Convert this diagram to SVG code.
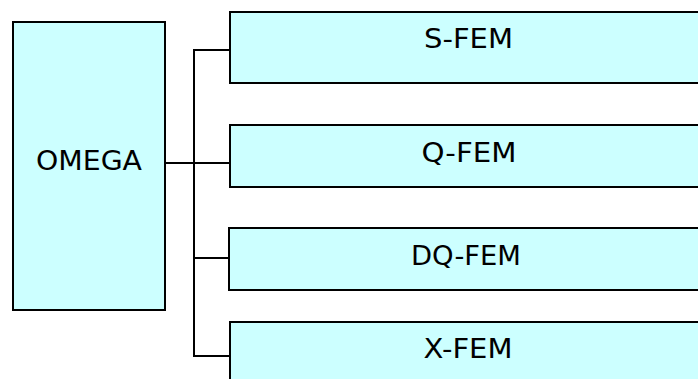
<svg xmlns="http://www.w3.org/2000/svg" width="698" height="379" viewBox="0 0 698 379">
  <style>
    .box { fill: #CCFFFF; stroke: #000; stroke-width: 2; }
    .lbl { font-family: "DejaVu Sans", "Liberation Sans", sans-serif; font-size: 26px; fill: #000; text-anchor: middle; }
    .wire { fill: none; stroke: #000; stroke-width: 2; }
  </style>
  <rect width="698" height="379" fill="#fff"/>

  <g id="omega">
    <rect class="box" x="13" y="22" width="152" height="288"/>
    <text class="lbl" x="89" y="170" textLength="106" lengthAdjust="spacingAndGlyphs">OMEGA</text>
  </g>

  <g id="s-fem">
    <rect class="box" x="230" y="12" width="480" height="71"/>
    <text class="lbl" x="468.5" y="48" textLength="89" lengthAdjust="spacingAndGlyphs">S-FEM</text>
  </g>

  <g id="q-fem">
    <rect class="box" x="230" y="125" width="480" height="62"/>
    <text class="lbl" x="469" y="161.5" textLength="95" lengthAdjust="spacingAndGlyphs">Q-FEM</text>
  </g>

  <g id="dq-fem">
    <rect class="box" x="229" y="228" width="480" height="62"/>
    <text class="lbl" x="466" y="265" textLength="110" lengthAdjust="spacingAndGlyphs">DQ-FEM</text>
  </g>

  <g id="x-fem">
    <rect class="box" x="230" y="322" width="480" height="80"/>
    <text class="lbl" x="468" y="358" textLength="89" lengthAdjust="spacingAndGlyphs">X-FEM</text>
  </g>

  <g id="connectors">
    <polyline class="wire" points="230,50 194,50 194,356 231,356"/>
    <line class="wire" x1="165" y1="163" x2="230" y2="163"/>
    <line class="wire" x1="194" y1="258" x2="229" y2="258"/>
  </g>
</svg>
